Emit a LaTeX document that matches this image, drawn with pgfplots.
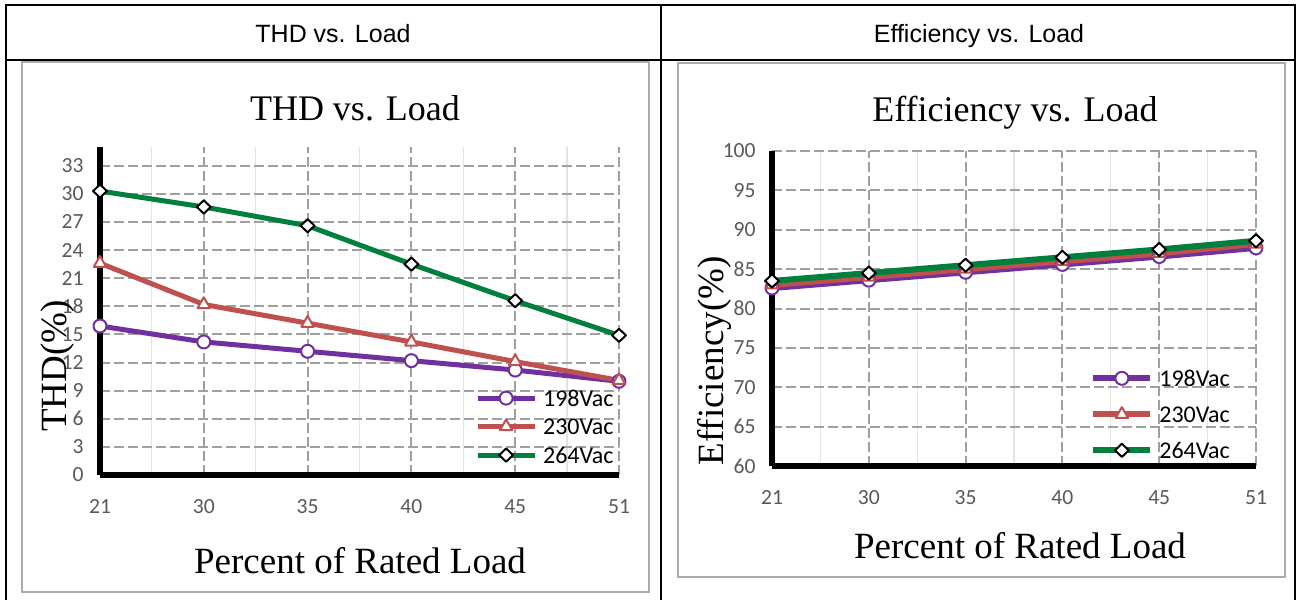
\documentclass[border=0pt]{standalone}
\usepackage{fontspec}
\setmainfont{Liberation Sans}
\newfontfamily\timesf{Liberation Serif}
\newfontfamily\calibri{Carlito}
\usepackage{pgfplots}
\pgfplotsset{compat=1.18}

\definecolor{vpurple}{HTML}{7030A0}
\definecolor{vred}{HTML}{C0504D}
\definecolor{vgreen}{HTML}{00803C}
\definecolor{gridgrey}{HTML}{A0A0A0}
\definecolor{minorgrey}{HTML}{E3E3E3}
\definecolor{ticklab}{HTML}{595959}
\definecolor{framegrey}{HTML}{ABABAB}

\pgfplotsset{
  excel/.style={
    scale only axis, enlargelimits=false,
    axis x line=bottom, axis y line=left,
    axis line style={line width=2.75pt, black, -},
    xmin=0, xmax=5, xtick={0,...,5},
    xticklabels={21,30,35,40,45,51},
    minor x tick num=1,
    major tick length=0pt, minor tick length=0pt,
    xmajorgrids, ymajorgrids, xminorgrids,
    major grid style={gridgrey, line width=1pt, dash pattern=on 5pt off 2pt},
    minor grid style={minorgrey, line width=0.6pt},
    ticklabel style={font=\calibri\fontsize{10.8}{12}\selectfont, text=ticklab},
    /pgf/number format/assume math mode=true,
    yticklabel style={anchor=east, inner sep=0pt, xshift=-8pt},
    xticklabel style={anchor=north, inner sep=0pt, yshift=-12pt},
    legend cell align=left,
    legend style={draw=none, fill=none, inner sep=0pt, column sep=3pt,
      font=\calibri\fontsize{12}{14}\selectfont,
      nodes={inner sep=0pt, text height=8pt, text depth=0pt}},
    legend image code/.code={\draw[mark repeat=2, mark phase=2, #1]
      plot coordinates {(0pt,0pt) (14.25pt,0pt) (28.5pt,0pt)};},
  },
  s198/.style={vpurple, line width=#1, line join=round, mark=*, mark size=3.25pt,
    mark options={solid, line width=1pt, draw=vpurple, fill=white}},
  s230/.style={vred, line width=#1, line join=round, mark=triangle*, mark size=3.6pt,
    mark options={solid, line width=1pt, draw=vred, fill=white}},
  s264/.style={vgreen, line width=#1, line join=round, mark=diamond*, mark size=3.3pt,
    mark options={solid, line width=1pt, draw=black, fill=white, xscale=1.4}},
}

\begin{document}
\begin{tikzpicture}
\begin{scope}[x=0.5pt, y=-0.5pt]
  \path[use as bounding box] (0,0) rectangle (1298,600);
  % table
  \draw[line width=1pt] (6,600) -- (6,5) -- (1295,5) -- (1295,600);
  \draw[line width=1pt] (6,60) -- (1295,60);
  \draw[line width=1pt] (661,5) -- (661,600);
  \node[font=\fontsize{12.5}{15}\selectfont, anchor=base] at (333,42) {THD vs. Load};
  \node[font=\fontsize{12.5}{15}\selectfont, anchor=base] at (979,42) {Efficiency vs. Load};
  % chart frames
  \draw[framegrey, line width=1.2pt] (22,62) rectangle (649,592);
  \draw[framegrey, line width=1.2pt] (678,63) rectangle (1285,577);
\end{scope}

% THD chart
\begin{axis}[excel, width=259.5pt, height=164pt,
  at={(50pt,-237.5pt)}, anchor=south west,
  ymin=0, ymax=35, ytick={0,3,...,33},
  legend style={at={(0.722,0.26)}, anchor=north west, row sep=6.25pt}]
  \addplot[s198=2.5pt] coordinates {(0,15.9) (1,14.2) (2,13.2) (3,12.2) (4,11.2) (5,10.0)};
  \addlegendentry{198Vac}
  \addplot[s230=2.5pt] coordinates {(0,22.6) (1,18.2) (2,16.2) (3,14.2) (4,12.1) (5,10.1)};
  \addlegendentry{230Vac}
  \addplot[s264=2.5pt] coordinates {(0,30.3) (1,28.6) (2,26.6) (3,22.5) (4,18.6) (5,14.9)};
  \addlegendentry{264Vac}
\end{axis}

% Efficiency chart
\begin{axis}[excel, width=242pt, height=157.5pt,
  at={(386pt,-233pt)}, anchor=south west,
  ymin=60, ymax=100, ytick={60,65,...,100},
  legend style={at={(0.657,0.305)}, anchor=north west, row sep=10pt}]
  \addplot[s198=3pt] coordinates {(0,82.6) (1,83.6) (2,84.6) (3,85.6) (4,86.6) (5,87.7)};
  \addlegendentry{198Vac}
  \addplot[s230=3pt] coordinates {(0,83.0) (1,84.0) (2,85.0) (3,86.0) (4,87.0) (5,88.2)};
  \addlegendentry{230Vac}
  \addplot[s264=3pt] coordinates {(0,83.5) (1,84.5) (2,85.5) (3,86.5) (4,87.5) (5,88.6)};
  \addlegendentry{264Vac}
\end{axis}

\begin{scope}[x=0.5pt, y=-0.5pt]
  \node[font=\timesf\fontsize{18}{20}\selectfont, anchor=base] at (355,120) {THD vs. Load};
  \node[font=\timesf\fontsize{18}{20}\selectfont, anchor=base] at (1015,121) {Efficiency vs. Load};
  \node[font=\timesf\fontsize{18.5}{20}\selectfont, anchor=base] at (360,573) {Percent of Rated Load};
  \node[font=\timesf\fontsize{18.5}{20}\selectfont, anchor=base] at (1020,558) {Percent of Rated Load};
  \node[font=\timesf\fontsize{18.5}{20}\selectfont, anchor=base, rotate=90] at (67,366) {THD(\%)};
  \node[font=\timesf\fontsize{18.5}{20}\selectfont, anchor=base, rotate=90] at (723,361) {Efficiency(\%)};
\end{scope}
\end{tikzpicture}
\end{document}
